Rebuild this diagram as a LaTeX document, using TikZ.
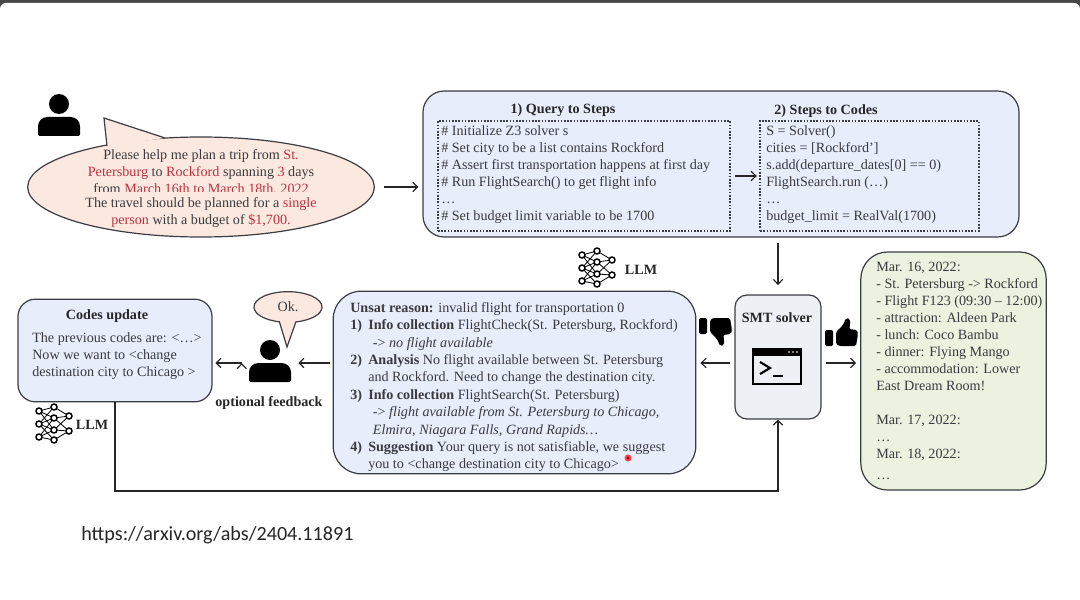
\documentclass[tikz,border=0pt]{standalone}
\usepackage{fontspec}
\setmainfont{Liberation Serif}
\newfontfamily\urlfont{Carlito}
\usetikzlibrary{positioning,arrows.meta,shapes.geometric,shapes.callouts}

\definecolor{inkc}{HTML}{3A3A3E}
\definecolor{linec}{HTML}{3C3C44}
\definecolor{redc}{HTML}{BE3040}
\definecolor{peachc}{HTML}{FBE9E0}
\definecolor{bluec}{HTML}{E7EDFB}
\definecolor{greenc}{HTML}{ECF2E0}
\definecolor{greyc}{HTML}{EFEFF6}

\newcommand{\hl}[1]{\textcolor{redc}{#1}}
\newcommand{\numitem}[1]{\makebox[13.5pt][l]{\textbf{#1}}}

\tikzset{
	panel/.style={draw=linec,line width=0.9pt,rounded corners=#1,inner sep=0pt},
	dotbox/.style={draw=linec,line width=1.1pt,dash pattern=on 1.2pt off 1.2pt,inner sep=0pt},
	body/.style={font=\fontsize{10.6}{12.75}\selectfont,text=inkc,align=left,inner sep=0pt,anchor=north west},
	head/.style={font=\fontsize{10.6}{12.75}\selectfont\bfseries,text=black!85,inner sep=0pt},
	link/.style={->,draw=black!85,line width=0.9pt},
	person/.pic={
		\fill (0,-13) circle (10);
		\fill (-21,19) [rounded corners=1pt] -- (-21,10) [rounded corners=7pt] -- (-21,0) -- (21,0) [rounded corners=1pt] -- (21,19) -- cycle;
	},
	network/.pic={
		\foreach \a/\ax/\ay in {a/-15/-13,b/-15/0,c/-15/13,d/0/-17,e/0/-6,f/0/6,g/0/16,h/15/-8,i/15/7}
			\coordinate (-\a) at (\ax,\ay);
		\foreach \p/\q in {a/d,a/e,a/f,b/d,b/e,b/f,b/g,c/e,c/f,c/g,d/h,e/h,e/i,f/h,f/i,g/i}
			\draw[line width=0.6pt] (-\p) -- (-\q);
		\foreach \a in {a,b,c,d,e,f,g,h,i}
			\draw[line width=1.1pt,fill=white] (-\a) circle (3);
	},
	thumb/.pic={
		\fill[rounded corners=1pt] (-16,-2) rectangle (-8,14);
		\fill[rounded corners=1.2pt] (-5,0) -- (2,-7) -- (5,-14) -- (9,-13) -- (9,-6) -- (8,-3)
			-- (16,-2) -- (17,2) -- (15,14) -- (-2,14) -- (-5,12) -- cycle;
	},
	console/.pic={
		\draw[line width=1.8pt] (-24,-17) rectangle (24,18);
		\fill (-24,-17) rectangle (24,-10);
		\foreach \x in {12,16,20}
			\fill[white] (\x,-14) circle (0.9);
		\draw[line width=1.6pt] (-17,-4) -- (-7,2) -- (-17,8);
		\draw[line width=1.6pt] (-4,10) -- (6,10);
	},
}

\begin{document}
\begin{tikzpicture}[x=0.75pt,y=-0.75pt,>={Straight Barb[length=3.6pt,width=7pt]}]
	\useasboundingbox (0,0) rectangle (1080,599);
	% slide edge
	\fill[black!72] (0,0) rectangle (1080,20);
	\fill[white] (0,30) [rounded corners=4.5pt] -- (0,3) -- (1080,3) [sharp corners] -- (1080,30) -- cycle;
	\fill[white] (0,25) rectangle (1080,599);

	% user query
	\pic[black] at (59,117) {person};
	\node[ellipse,draw=linec,line width=0.9pt,fill=peachc,minimum width=260pt,minimum height=75pt,inner sep=0pt] (query) at (201,187) {};
	\fill[peachc] (107,146) -- (104,118) -- (165,138) -- cycle;
	\draw[linec,line width=0.9pt,line join=miter] (107,146) -- (104,118) -- (165,138);
	\node[body,align=center,anchor=north] (querytop) at (201,149) {Please help me plan a trip from \hl{St.}\\
		\hl{Petersburg} to \hl{Rockford} spanning \hl{3} days\\
		from \hl{March 16th to March 18th, 2022}};
	\fill[peachc] (90,191.5) rectangle (310,197);
	\node[body,align=center,anchor=north] (querylow) at (201,197) {The travel should be planned for a \hl{single}\\
		\hl{person} with a budget of \hl{\$1,700.}};

	% query to codes
	\node[panel=16pt,fill=bluec,minimum width=447pt,minimum height=109.5pt] (steps) at (721,164) {};
	\node[head] (stepstitle) at (563,110) {1) Query to Steps};
	\node[head] (codestitle) at (826,111) {2) Steps to Codes};
	\node[dotbox,minimum width=219pt,minimum height=82.5pt] (stepsbox) at (584,176) {};
	\node[dotbox,minimum width=164pt,minimum height=82.5pt] (codesbox) at (869.5,176) {};
	\node[body] (stepstext) at (441,125) {\# Initialize Z3 solver s\\
		\# Set city to be a list contains Rockford\\
		\# Assert first transportation happens at first day\\
		\# Run FlightSearch() to get flight info\\
		\dots\\
		\# Set budget limit variable to be 1700};
	\node[body] (codestext) at (766,125) {S = Solver()\\
		cities = [Rockford']\\
		s.add(departure\_dates[0] == 0)\\
		FlightSearch.run (\dots)\\
		\dots\\
		budget\_limit = RealVal(1700)};

	% solver
	\node[panel=9pt,fill=greyc,minimum width=64.5pt,minimum height=93pt] (smt) at (778,357) {};
	\node[head] (smttitle) at (777,318) {SMT solver};
	\pic[black] at (777,366) {console};

	% plan
	\node[panel=20pt,fill=greenc,minimum width=139pt,minimum height=178.5pt] (plan) at (953.5,371) {};
	\node[body] (plantext) at (876,262) {Mar. 16, 2022:\\
		- St. Petersburg -> Rockford\\
		- Flight F123 (09:30 -- 12:00)\\
		- attraction: Aldeen Park\\
		- lunch: Coco Bambu\\
		- dinner: Flying Mango\\
		- accommodation: Lower\\
		East Dream Room!\\[12.75pt]
		Mar. 17, 2022:\\
		\dots\\
		Mar. 18, 2022:\\[3pt]
		\dots};

	% unsat reason
	\node[panel=21pt,fill=bluec,minimum width=272pt,minimum height=137pt] (unsat) at (514.5,382.5) {};
	\node[body,font=\fontsize{10.6}{13.05}\selectfont] (unsattext) at (350,302) {\textbf{Unsat reason:} invalid flight for transportation 0\\
		\numitem{1)}\textbf{Info collection} FlightCheck(St. Petersburg, Rockford)\\
		\hspace{17pt}-> \textit{no flight available}\\
		\numitem{2)}\textbf{Analysis} No flight available between St. Petersburg\\
		\hspace{13.5pt}and Rockford. Need to change the destination city.\\
		\numitem{3)}\textbf{Info collection} FlightSearch(St. Petersburg)\\
		\hspace{17pt}-> \textit{flight available from St. Petersburg to Chicago,}\\
		\hspace{17pt}\textit{Elmira, Niagara Falls, Grand Rapids\dots}\\
		\numitem{4)}\textbf{Suggestion} Your query is not satisfiable, we suggest\\
		\hspace{13.5pt}you to <change destination city to Chicago>};
	\fill[red!75] (628,458) circle (3.5);
	\fill[red!45!black] (628,458) circle (1.4);

	% feedback
	\node[minimum width=42pt,minimum height=30pt,inner sep=0pt] (feedback) at (270,363) {};
	\pic[black] at (270,363) {person};
	\node[ellipse callout,draw=linec,line width=0.9pt,fill=peachc,minimum width=51pt,minimum height=23pt,inner sep=0pt,
		font=\fontsize{10.6}{12}\selectfont,text=inkc,
		callout absolute pointer={(287,347)},callout pointer arc=28] (okay) at (288,307) {Ok.};
	\node[head] (feedbacklabel) at (269,403) {optional feedback};

	% codes update
	\node[panel=13pt,fill=bluec,minimum width=145.5pt,minimum height=77pt] (codes) at (115,350.5) {};
	\node[head] (codestop) at (107,316) {Codes update};
	\node[body] (codesbody) at (32,332) {The previous codes are: <\dots>\\
		Now we want to <change\\
		destination city to Chicago >};

	% llm marks
	\pic[black] at (597,268) {network};
	\node[head] (llmone) at (641,270) {LLM};
	\pic[black] at (54,424) {network};
	\node[head] (llmtwo) at (92,425) {LLM};

	% verdicts
	\pic[black] at (841,332) {thumb};
	\pic[black,yscale=-1] at (715,332) {thumb};

	\coordinate (turn) at (400,491);

	\path[link]
		(query.east) edge [shorten <=7pt,shorten >=3pt] (query.east -| steps.west)
		(stepsbox.east) edge [shorten <=3pt,shorten >=2pt] (stepsbox.east -| codesbox.west)
		(steps.south -| smt) edge [shorten <=4pt,shorten >=7pt] (smt.north)
		(smt.west |- feedback) edge [shorten <=3pt,shorten >=3pt] (feedback -| unsat.east)
		(smt.east |- feedback) edge [shorten <=3pt,shorten >=3pt] (feedback -| plan.west)
		(unsat.west |- feedback) edge [shorten <=2pt] (feedback.east)
		(feedback.west) edge [shorten >=2pt] (feedback -| codes.east);
	\draw[link] (codes.south) -- (codes.south |- turn) -- (smt.south |- turn) -- (smt.south);

	% source
	\node[font=\urlfont\fontsize{15.1}{18}\selectfont,text=black!85,inner sep=0pt,anchor=west] (source) at (81,535) {https://arxiv.org/abs/2404.11891};
\end{tikzpicture}
\end{document}
